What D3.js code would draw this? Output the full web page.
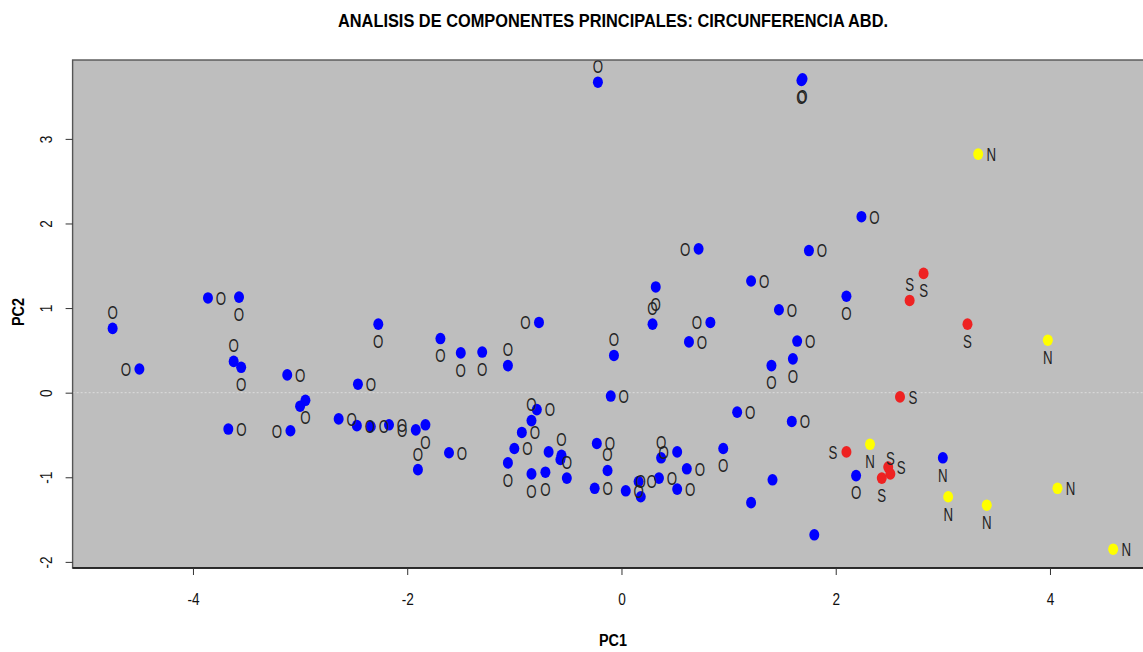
<!DOCTYPE html>
<html>
<head>
<meta charset="utf-8">
<script src="https://cdn.jsdelivr.net/npm/d3@7"></script>
<style>
body { margin: 0; background: #fff; }
text { font-family: "Liberation Sans", Arial, sans-serif; }
</style>
</head>
<body>
<div id="chart"></div>
<script>
// componentes principales
var pc1 = [-4.75, -4.50, -3.86, -3.57, -3.62, -3.55, -3.67, -3.12, -2.95, -3.00,
    -2.46, -2.27, -3.09, -2.64, -2.47, -2.34, -2.17, -1.92, -1.83, -1.90,
    -1.69, -1.50, -1.30, -1.06, -0.77, -0.07, 0.29, 0.32, -0.10, -1.61,
    -0.79, -0.84, -0.93, -1.00, -1.06, -0.84, -0.71, -0.68, -0.56, -0.57,
    -0.51, -0.23, -0.13, -0.25, 0.04, 0.16, 0.18, 0.35, 0.37, 0.52,
    0.61, 0.52, 2.24, 0.72, 1.75, 1.21, 2.10, 1.47, 0.83, 0.63,
    1.64, 1.60, 1.40, -0.22, 1.68, 1.69, 1.08, 1.59, 0.95, 1.41,
    1.21, 1.80, 2.19, 3.00, 2.10, 2.43, 2.49, 2.51, 2.82, 2.69,
    3.23, 2.60, 2.32, 3.05, 3.41, 4.07, 4.59, 3.33, 3.98];
var pc2 = [0.76, 0.28, 1.12, 1.13, 0.37, 0.30, -0.43, 0.21, -0.09, -0.16,
    0.10, 0.81, -0.45, -0.31, -0.39, -0.40, -0.38, -0.44, -0.38, -0.91,
    0.64, 0.47, 0.48, 0.32, 0.83, 0.44, 0.81, 1.25, -0.04, -0.71,
    -0.20, -0.33, -0.47, -0.66, -0.83, -0.96, -0.94, -0.70, -0.74, -0.79,
    -1.01, -0.60, -0.92, -1.13, -1.16, -1.05, -1.23, -1.01, -0.77, -0.70,
    -0.90, -1.14, 2.08, 1.70, 1.68, 1.32, 1.14, 0.98, 0.83, 0.60,
    0.61, 0.40, 0.32, 3.67, 3.69, 3.71, -0.23, -0.34, -0.66, -1.03,
    -1.30, -1.68, -0.98, -0.77, -0.70, -1.01, -0.88, -0.96, 1.41, 1.09,
    0.81, -0.05, -0.61, -1.23, -1.33, -1.13, -1.85, 2.82, 0.62];
// grupo (color del punto)
var grupo = ['O','O','O','O','O','O','O','O','O','O',
    'O','O','O','O','O','O','O','O','O','O',
    'O','O','O','O','O','O','O','O','O','O',
    'O','O','O','O','O','O','O','O','O','O',
    'O','O','O','O','O','O','O','O','O','O',
    'O','O','O','O','O','O','O','O','O','O',
    'O','O','O','O','O','O','O','O','O','O',
    'O','O','O','O','S','S','S','S','S','S',
    'S','S','N','N','N','N','N','N','N'];
// etiqueta escrita junto a cada punto ('' = sin etiqueta)
var etiqueta = ['O','O','O','O','O','O','O','O','O','',
    'O','O','O','O','O','O','O','O','O','O',
    'O','O','O','O','O','O','O','O','O','O',
    'O','O','O','O','O','O','O','','O','',
    'O','O','O','O','O','O','O','O','O','O',
    'O','O','O','O','O','O','O','O','O','O',
    'O','O','O','O','O','O','O','O','O','',
    '','','O','N','S','S','S','S','S','S',
    'S','S','N','N','N','N','N','N','N'];
// lado de la etiqueta como en text(pos=): 1 abajo, 2 izq, 3 arriba, 4 der
var lado = [3, 2, 4, 1, 3, 1, 4, 4, 1, 0,
    4, 1, 2, 4, 4, 4, 4, 2, 1, 3,
    1, 1, 1, 3, 2, 3, 3, 1, 4, 4,
    4, 3, 4, 4, 1, 1, 1, 0, 3, 0,
    3, 4, 3, 4, 4, 4, 3, 4, 3, 2,
    4, 4, 4, 2, 4, 4, 1, 4, 2, 4,
    4, 1, 1, 3, 1, 1, 4, 4, 1, 0,
    0, 0, 1, 1, 2, 1, 4, 3, 1, 3,
    1, 4, 1, 1, 1, 4, 4, 4, 1];
var xTicks = [-4, -2, 0, 2, 4];
var yTicks = [-2, -1, 0, 1, 2, 3];

var svgWidth = 1143;
var svgHeight = 652;
var plot = {left: 72.6, top: 60, right: 1153.2, bottom: 568};
var colores = {O: '#0000ff', S: '#ee2222', N: '#ffff00'};
var offsets = {1: [0, 17], 2: [-13.5, 0], 3: [0, -16], 4: [13, 0]};

var data = pc1.map(function(d, i) {
    return {x: d, y: pc2[i], grupo: grupo[i], label: etiqueta[i], pos: lado[i]};
});

// same 4% extension R uses for the axis limits
function padded(values) {
    var e = d3.extent(values);
    var p = (e[1] - e[0]) * 0.04;
    return [e[0] - p, e[1] + p];
}

var xScale = d3.scaleLinear().domain(padded(pc1)).range([plot.left, plot.right]);
var yScale = d3.scaleLinear().domain(padded(pc2)).range([plot.bottom, plot.top]);

var svg = d3.select('#chart').append('svg')
    .attr('width', svgWidth).attr('height', svgHeight);

svg.append('defs').append('clipPath').attr('id', 'plotClip')
    .append('rect')
    .attr('x', plot.left).attr('y', plot.top)
    .attr('width', plot.right - plot.left).attr('height', plot.bottom - plot.top);

svg.append('rect')
    .attr('x', plot.left).attr('y', plot.top)
    .attr('width', plot.right - plot.left).attr('height', plot.bottom - plot.top)
    .attr('fill', '#bebebe');

svg.append('line')
    .attr('x1', plot.left).attr('x2', plot.right)
    .attr('y1', yScale(0)).attr('y2', yScale(0))
    .attr('stroke', '#dcdcdc').attr('stroke-dasharray', '2,2');

var chartGroup = svg.append('g').attr('clip-path', 'url(#plotClip)');

chartGroup.selectAll('ellipse')
    .data(data)
    .enter()
    .append('ellipse')
    .attr('cx', d => xScale(d.x))
    .attr('cy', d => yScale(d.y))
    .attr('rx', 5)
    .attr('ry', 5.8)
    .attr('fill', d => colores[d.grupo]);

chartGroup.selectAll('text.lab')
    .data(data.filter(d => d.pos > 0))
    .enter()
    .append('text')
    .attr('class', 'lab')
    .attr('transform', d => `translate(${xScale(d.x) + offsets[d.pos][0]},${yScale(d.y) + offsets[d.pos][1]}) scale(0.7,1)`)
    .attr('text-anchor', 'middle')
    .attr('dy', '0.36em')
    .attr('font-size', 19)
    .attr('fill', '#222')
    .text(d => d.label);

// box
svg.append('rect')
    .attr('x', plot.left).attr('y', plot.top)
    .attr('width', plot.right - plot.left).attr('height', plot.bottom - plot.top)
    .attr('fill', 'none').attr('stroke', '#555').attr('stroke-width', 1.4);
svg.append('line')
    .attr('x1', plot.left).attr('x2', plot.right)
    .attr('y1', plot.bottom).attr('y2', plot.bottom)
    .attr('stroke', '#111').attr('stroke-width', 1.6);

// axes
var bottomAxis = d3.axisBottom(xScale).tickValues(xTicks).tickSize(7).tickPadding(19)
    .tickFormat(d => String(d));
var xAxis = svg.append('g')
    .attr('transform', `translate(0,${plot.bottom})`)
    .call(bottomAxis)
    .attr('font-size', null).attr('font-family', null);
xAxis.select('.domain').remove();
xAxis.selectAll('line').attr('stroke', '#333');
xAxis.selectAll('text')
    .attr('font-size', 16).attr('fill', '#111')
    .attr('transform', 'scale(0.85,1)');

var leftAxis = d3.axisLeft(yScale).tickValues(yTicks).tickSize(7)
    .tickFormat(d => String(d));
var yAxis = svg.append('g')
    .attr('transform', `translate(${plot.left},0)`)
    .call(leftAxis)
    .attr('font-size', null).attr('font-family', null);
yAxis.select('.domain').remove();
yAxis.selectAll('line').attr('stroke', '#333');
yAxis.selectAll('text')
    .attr('x', 0).attr('dy', '0.35em')
    .attr('text-anchor', 'middle')
    .attr('font-size', 16).attr('fill', '#111')
    .attr('transform', 'translate(-26,0) rotate(-90) scale(0.85,1)');

// titles
svg.append('text')
    .attr('x', 613).attr('y', 27)
    .attr('text-anchor', 'middle')
    .attr('font-weight', 'bold').attr('font-size', 19)
    .attr('textLength', 550).attr('lengthAdjust', 'spacingAndGlyphs')
    .text('ANALISIS DE COMPONENTES PRINCIPALES: CIRCUNFERENCIA ABD.');

svg.append('text')
    .attr('x', 613).attr('y', 646)
    .attr('text-anchor', 'middle')
    .attr('font-weight', 'bold').attr('font-size', 16)
    .attr('textLength', 28).attr('lengthAdjust', 'spacingAndGlyphs')
    .text('PC1');

svg.append('text')
    .attr('transform', 'translate(24,312) rotate(-90)')
    .attr('text-anchor', 'middle')
    .attr('font-weight', 'bold').attr('font-size', 16)
    .attr('textLength', 28).attr('lengthAdjust', 'spacingAndGlyphs')
    .text('PC2');
</script>
</body>
</html>
